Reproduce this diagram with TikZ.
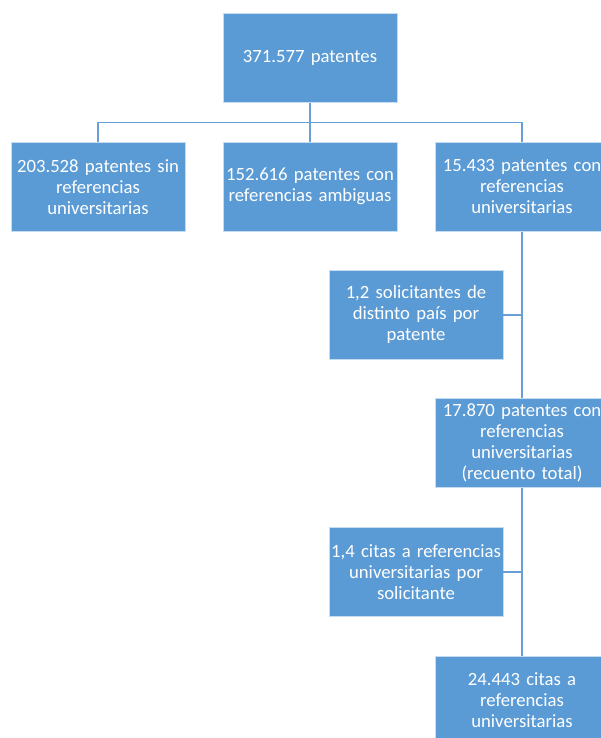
\documentclass[tikz,border=0pt]{standalone}
\usepackage{fontspec}
\setmainfont{Carlito}
\usetikzlibrary{positioning, calc}

\definecolor{boxblue}{RGB}{91,155,213}
\definecolor{lineblue}{RGB}{104,160,214}
\tikzset{
  box/.style={rectangle, fill=boxblue, draw=white!65!boxblue, line width=0.8pt,
    minimum width=174pt, minimum height=89pt, text width=170pt, inner sep=0pt,
    align=center, text=white, font=\fontsize{18.7}{21}\selectfont},
  conn/.style={draw=lineblue, line width=1.6pt}
}

\begin{document}
\begin{tikzpicture}[x=1pt,y=-1pt]
\useasboundingbox (0,0) rectangle (601,738);
\node[box] (top) at (310,57.8) {371.577 patentes};
\node[box] (sin) at (98,186.7) {203.528 patentes sin\\referencias\\universitarias};
\node[box] (amb) at (310,186.7) {152.616 patentes con\\referencias ambiguas};
\node[box] (con) at (522,186.7) {15.433 patentes con\\referencias\\universitarias};
\node[box] (sol) at (416,315) {1,2 solicitantes de\\distinto país por\\patente};
\node[box] (tot) at (522,443.3) {17.870 patentes con\\referencias\\universitarias\\(recuento total)};
\node[box] (cpa) at (416,571.7) {1,4 citas a referencias\\universitarias por\\solicitante};
\node[box] (cit) at (522,700.5) {24.443 citas a\\referencias\\universitarias};
\coordinate (bus) at (310,122.7);
% connectors
\draw[conn] (top.south) -- (amb.north);
\draw[conn] (sin.north) -- (sin.north |- bus) -- (con.north |- bus) -- (con.north);
\draw[conn] (con.south) -- (tot.north);
\draw[conn] (sol.east) -- (sol.east -| con.south);
\draw[conn] (tot.south) -- (cit.north);
\draw[conn] (cpa.east) -- (cpa.east -| tot.south);
\end{tikzpicture}
\end{document}
